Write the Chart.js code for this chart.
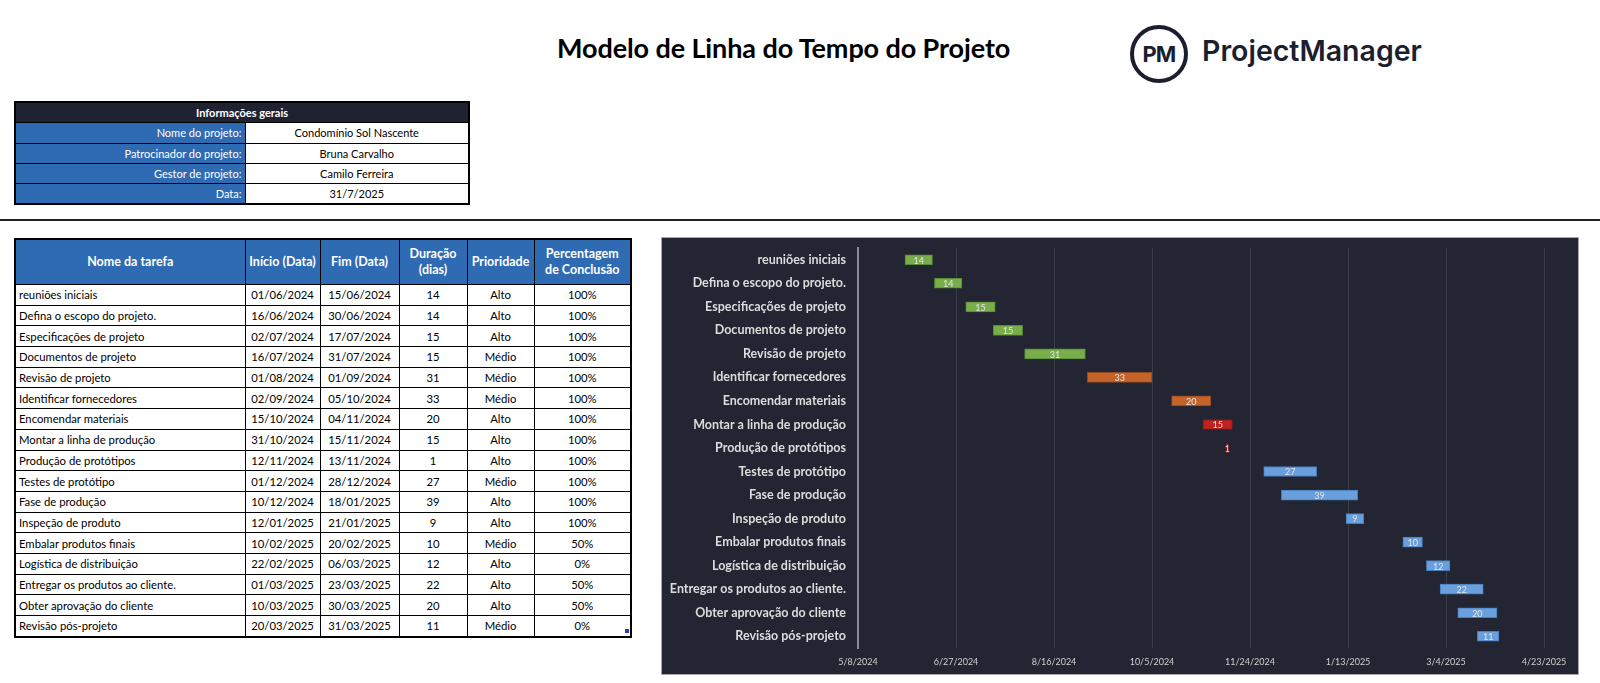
<!DOCTYPE html>
<html lang="pt">
<head>
<meta charset="utf-8">
<title>Modelo de Linha do Tempo do Projeto</title>
<script src="https://cdn.jsdelivr.net/npm/chart.js@4.4.1/dist/chart.umd.min.js"></script>
<style>
  body { margin: 0; width: 1600px; height: 683px; background: #fff; position: relative; overflow: hidden;
         font-family: Lato, "Noto Sans", sans-serif; color: #000; }
  #title { position: absolute; left: 557px; top: 31px; font-size: 27px; font-weight: 700; white-space: nowrap; letter-spacing: -0.1px; }
  #logo { position: absolute; left: 1130px; top: 25px; width: 310px; height: 60px; }
  #logo .ring { position: absolute; left: 0; top: 0; width: 50px; height: 50px; border: 4px solid #1b1e2e; border-radius: 50%;
                font: 700 22px Inter, Lato, sans-serif; color: #1b1e2e; line-height: 50px; text-align: center; letter-spacing: -1px; }
  #logo .name { position: absolute; left: 72px; top: 8px; font: 600 28.5px Inter, Lato, sans-serif; color: #1b1e2e; white-space: nowrap; }
  #rule { position: absolute; left: 0; top: 219px; width: 1600px; height: 2px; background: #222; }
  table { position: absolute; border-collapse: collapse; table-layout: fixed; font-size: 11px; }
  td, th { border: 1px solid #000; padding: 0 3px; overflow: hidden; white-space: nowrap; }
  #info { left: 14px; top: 101px; width: 454px; border: 2px solid #000; }
  #info td, #info th { height: 19.3px; }
  #info th { background: #1f2230; color: #fff; font-weight: 700; text-align: center; }
  #info td.k { background: #2f6bb3; color: #fff; text-align: right; }
  #info td.v { text-align: center; }
  #tasks { left: 14px; top: 238px; width: 616px; border: 2px solid #000; }
  #tasks th { background: #2f6bb3; color: #fff; font-weight: 700; font-size: 12.5px; height: 44px; text-align: center; white-space: nowrap; line-height: 16px; padding: 0 1px; }
  #tasks td { height: 19.7px; text-align: center; font-size: 11.3px; }
  #tasks td:first-child { text-align: left; }
  #handle { position: absolute; left: 625px; top: 629px; width: 4px; height: 4px; background: #2a3fa0; }
  #gantt { position: absolute; left: 661px; top: 237px; width: 916px; height: 436px; background: #232632; border: 1px solid #a8a8a8; }
</style>
</head>
<body>
<div id="title">Modelo de Linha do Tempo do Projeto</div>
<div id="logo"><div class="ring">PM</div><div class="name">ProjectManager</div></div>

<table id="info">
  <colgroup><col style="width:230px"><col style="width:224px"></colgroup>
  <tr><th colspan="2">Informações gerais</th></tr>
  <tr><td class="k">Nome do projeto:</td><td class="v">Condomínio Sol Nascente</td></tr>
  <tr><td class="k">Patrocinador do projeto:</td><td class="v">Bruna Carvalho</td></tr>
  <tr><td class="k">Gestor de projeto:</td><td class="v">Camilo Ferreira</td></tr>
  <tr><td class="k">Data:</td><td class="v">31/7/2025</td></tr>
</table>

<div id="rule"></div>

<table id="tasks">
  <colgroup>
    <col style="width:230px"><col style="width:75px"><col style="width:79px">
    <col style="width:68px"><col style="width:67px"><col style="width:97px">
  </colgroup>
  <thead>
    <tr><th>Nome da tarefa</th><th>Início (Data)</th><th>Fim (Data)</th><th>Duração<br>(dias)</th><th>Prioridade</th><th>Percentagem<br>de Conclusão</th></tr>
  </thead>
  <tbody id="rows"></tbody>
</table>
<div id="handle"></div>

<div id="gantt"><canvas id="chart-gantt" width="916" height="436"></canvas></div>

<script>
// task data
const tasks = ['reuniões iniciais', 'Defina o escopo do projeto.', 'Especificações de projeto', 'Documentos de projeto',
    'Revisão de projeto', 'Identificar fornecedores', 'Encomendar materiais', 'Montar a linha de produção',
    'Produção de protótipos', 'Testes de protótipo', 'Fase de produção', 'Inspeção de produto',
    'Embalar produtos finais', 'Logística de distribuição', 'Entregar os produtos ao cliente.',
    'Obter aprovação do cliente', 'Revisão pós-projeto'];
const startDates = ['01/06/2024', '16/06/2024', '02/07/2024', '16/07/2024', '01/08/2024', '02/09/2024', '15/10/2024',
    '31/10/2024', '12/11/2024', '01/12/2024', '10/12/2024', '12/01/2025', '10/02/2025', '22/02/2025',
    '01/03/2025', '10/03/2025', '20/03/2025'];
const endDates = ['15/06/2024', '30/06/2024', '17/07/2024', '31/07/2024', '01/09/2024', '05/10/2024', '04/11/2024',
    '15/11/2024', '13/11/2024', '28/12/2024', '18/01/2025', '21/01/2025', '20/02/2025', '06/03/2025',
    '23/03/2025', '30/03/2025', '31/03/2025'];
const durations = [14, 14, 15, 15, 31, 33, 20, 15, 1, 27, 39, 9, 10, 12, 22, 20, 11];
const priorities = ['Alto', 'Alto', 'Alto', 'Médio', 'Médio', 'Médio', 'Alto', 'Alto', 'Alto', 'Médio', 'Alto',
    'Alto', 'Médio', 'Alto', 'Alto', 'Alto', 'Médio'];
const completion = ['100%', '100%', '100%', '100%', '100%', '100%', '100%', '100%', '100%', '100%', '100%',
    '100%', '50%', '0%', '50%', '50%', '0%'];
// bar colour group of each task
const phase = [0, 0, 0, 0, 0, 1, 1, 2, 2, 3, 3, 3, 3, 3, 3, 3, 3];
const tickLabels = ['5/8/2024', '6/27/2024', '8/16/2024', '10/5/2024', '11/24/2024', '1/13/2025', '3/4/2025', '4/23/2025'];

const phaseFill = ['#78ae4a', '#c4632a', '#c0221e', '#6a9fdd'];
const phaseEdge = ['#5a8a36', '#94491d', '#8c1613', '#4a7cbb'];

// dd/mm/yyyy -> day number
function dayOf(s) {
    let [d, m, y] = s.split('/').map(Number);
    return Date.UTC(y, m - 1, d) / 86400000;
}
// m/d/yyyy -> day number
function dayOfUS(s) {
    let [m, d, y] = s.split('/').map(Number);
    return Date.UTC(y, m - 1, d) / 86400000;
}

// fill the table
let tbody = document.querySelector('#rows');
tasks.forEach((t, i) => {
    let tr = document.createElement('tr');
    [t, startDates[i], endDates[i], durations[i], priorities[i], completion[i]].forEach(v => {
        let td = document.createElement('td');
        td.textContent = v;
        tr.appendChild(td);
    });
    tbody.appendChild(tr);
});

const tickDays = tickLabels.map(dayOfUS);

// duration label in the middle of each bar
const durationLabels = {
    id: 'durationLabels',
    afterDatasetsDraw(chart) {
        let ctx = chart.ctx;
        ctx.save();
        ctx.font = '9px Lato';
        ctx.fillStyle = '#e4e4e4';
        ctx.textAlign = 'center';
        ctx.textBaseline = 'middle';
        chart.getDatasetMeta(0).data.forEach((bar, i) => {
            let p = bar.getProps(['x', 'base', 'y'], true);
            ctx.fillText(durations[i], (p.x + p.base) / 2, p.y + 1);
        });
        ctx.restore();
    }
};

let configGantt = {
    type: 'bar',
    data: {
        labels: tasks,
        datasets: [{
            data: tasks.map((t, i) => [dayOf(startDates[i]), dayOf(endDates[i])]),
            backgroundColor: phase.map(p => phaseFill[p]),
            borderColor: phase.map(p => phaseEdge[p]),
            borderWidth: 1,
            borderSkipped: false,
            barThickness: 10
        }]
    },
    options: {
        indexAxis: 'y',
        responsive: false,
        animation: false,
        layout: { padding: { left: 0, right: 34, top: 10, bottom: 0 } },
        plugins: {
            legend: { display: false },
            tooltip: { enabled: false }
        },
        scales: {
            x: {
                type: 'linear',
                min: tickDays[0],
                max: tickDays[tickDays.length - 1],
                afterBuildTicks: s => { s.ticks = tickDays.map(v => ({ value: v })); },
                afterFit: s => { s.height = 26; },
                ticks: {
                    callback: (v, i) => tickLabels[i],
                    color: '#cfcfcf',
                    font: { family: 'Lato', size: 9 },
                    padding: 9,
                    maxRotation: 0,
                    autoSkip: false
                },
                grid: { color: '#393c49', drawTicks: false },
                border: { display: false }
            },
            y: {
                afterFit: s => { s.width = 196; s.paddingTop = 0; s.paddingBottom = 0; },
                ticks: {
                    color: '#dcdcdc',
                    font: { family: 'Lato', size: 12.5, weight: 'bold' },
                    padding: 12
                },
                grid: { display: false, drawTicks: false },
                border: { display: true, color: '#8a8d96', width: 2 }
            }
        }
    },
    plugins: [durationLabels]
};

var myChartGantt = new Chart(document.getElementById('chart-gantt'), configGantt);
</script>
</body>
</html>
